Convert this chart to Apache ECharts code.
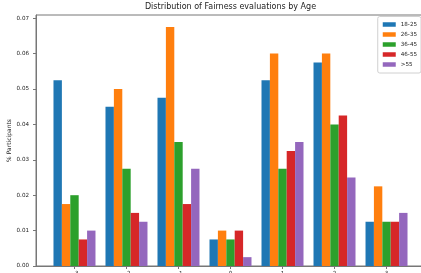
<!DOCTYPE html>
<html>
<head>
<meta charset="utf-8">
<script src="https://cdn.jsdelivr.net/npm/echarts@6/dist/echarts.min.js"></script>
<style>
  html, body { margin: 0; padding: 0; background: #fff; }
  #main { width: 421px; height: 273px; }
</style>
</head>
<body>
<div id="main"></div>
<script>
// fairness score categories (x positions)
var scores = [-3, -2, -1, 0, 1, 2, 3]
var ageGroups = ['18-25', '26-35', '36-45', '46-55', '>55']
var colors = ['#1f77b4', '#ff7f0e', '#2ca02c', '#d62728', '#9467bd']

var age18_25 = [0.0525, 0.045, 0.0475, 0.0075, 0.0525, 0.0575, 0.0125]
var age26_35 = [0.0175, 0.05, 0.0675, 0.01, 0.06, 0.06, 0.0225]
var age36_45 = [0.02, 0.0275, 0.035, 0.0075, 0.0275, 0.04, 0.0125]
var age46_55 = [0.0075, 0.015, 0.0175, 0.01, 0.0325, 0.0425, 0.0125]
var age55up = [0.01, 0.0125, 0.0275, 0.0025, 0.035, 0.025, 0.015]

var yTicks = [0, 0.01, 0.02, 0.03, 0.04, 0.05, 0.06, 0.07]

var allValues = [age18_25, age26_35, age36_45, age46_55, age55up]
var font = 'DejaVu Sans'

var myChart = echarts.init(document.getElementById('main'))

var series = ageGroups.map(function (name, i) {
  return {
    name: name,
    type: 'bar',
    barWidth: 8.4,
    barGap: '0%',
    itemStyle: { color: colors[i] },
    data: scores.map(function (s, j) {
      return [s, allValues[i][j]]
    })
  }
})

var option = {
  animation: false,
  backgroundColor: '#fff',
  textStyle: { fontFamily: font },
  title: {
    text: 'Distribution of Fairness evaluations by Age',
    left: 230.5,
    top: 3,
    padding: 0,
    textAlign: 'center',
    textStyle: { fontFamily: font, fontSize: 8, fontWeight: 'normal', color: '#222' }
  },
  legend: {
    data: ageGroups,
    orient: 'vertical',
    right: 0,
    top: 16.5,
    icon: 'rect',
    itemWidth: 13,
    itemHeight: 4.5,
    itemGap: 4,
    padding: [5, 4, 5.5, 5],
    borderColor: '#d0d0d0',
    borderWidth: 1,
    borderRadius: 2,
    backgroundColor: 'rgba(255,255,255,0.8)',
    textStyle: { fontFamily: font, fontSize: 5.6, lineHeight: 6, color: '#222', padding: [0, 0, 0, 0] }
  },
  grid: {
    left: 36,
    right: -4,
    top: 15,
    bottom: 7,
    outerBoundsMode: 'none',
    containLabel: false,
    show: true,
    borderColor: '#777',
    borderWidth: 1
  },
  xAxis: {
    type: 'value',
    min: -3.74,
    max: 3.74,
    splitLine: { show: false },
    axisLine: { show: true, onZero: false, lineStyle: { color: '#777', width: 1 } },
    axisTick: { show: true, length: 3, customValues: scores, lineStyle: { color: '#777' } },
    axisLabel: {
      customValues: scores,
      margin: 5,
      fontSize: 5.6,
      color: '#222',
      formatter: function (v) {
        return v < 0 ? '\u2212' + Math.abs(v) : String(v)
      }
    }
  },
  yAxis: {
    type: 'value',
    min: 0,
    max: 0.0709,
    name: '% Participants',
    nameLocation: 'middle',
    nameRotate: 90,
    nameGap: 24,
    nameMoveOverlap: false,
    nameTextStyle: { fontFamily: font, fontSize: 6, color: '#222' },
    splitLine: { show: false },
    axisLine: { show: true, onZero: false, lineStyle: { color: '#777', width: 1 } },
    axisTick: { show: true, length: 3, customValues: yTicks, lineStyle: { color: '#777' } },
    axisLabel: {
      customValues: yTicks,
      margin: 7,
      fontSize: 5.6,
      color: '#222',
      formatter: function (v) { return v.toFixed(2) }
    }
  },
  series: series
}
myChart.setOption(option)
</script>
</body>
</html>
